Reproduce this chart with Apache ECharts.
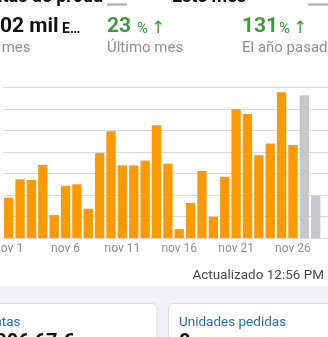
<!DOCTYPE html>
<html>
<head>
<meta charset="utf-8">
<script src="https://cdn.jsdelivr.net/npm/echarts@6/dist/echarts.min.js"></script>
<style>
  html, body { margin: 0; padding: 0; background: #ffffff; overflow: hidden; }
  #chart { width: 328px; height: 337px; }
</style>
</head>
<body>
<div id="chart"></div>
<script>
// Daily categories for November
const days = [
  'nov 1', 'nov 2', 'nov 3', 'nov 4', 'nov 5', 'nov 6', 'nov 7', 'nov 8', 'nov 9', 'nov 10',
  'nov 11', 'nov 12', 'nov 13', 'nov 14', 'nov 15', 'nov 16', 'nov 17', 'nov 18', 'nov 19', 'nov 20',
  'nov 21', 'nov 22', 'nov 23', 'nov 24', 'nov 25', 'nov 26', 'nov 27', 'nov 28', 'nov 29', 'nov 30'
];

// Daily ordered sales (one unit = one grid step)
const salesDaily = [
  1.88, 2.73, 2.70, 3.40, 1.07, 2.43, 2.50, 1.36, 3.95, 4.96,
  3.38, 3.38, 3.60, 5.24, 3.46, 0.42, 1.63, 3.12, 0.99, 2.85,
  5.99, 5.77, 3.85, 4.39, 6.78, 4.33, null, null, null, null
];

// Days still being consolidated (grey)
const salesPending = [
  null, null, null, null, null, null, null, null, null, null,
  null, null, null, null, null, null, null, null, null, null,
  null, null, null, null, null, null, 6.64, 1.98, null, null
];

// Header figures
const headerTitles = ['Ventas de produ', 'Este mes'];
const kpiValues = ['02 mil', '23', '131'];
const kpiUnits = ['E\u2026', '%', '%'];
const kpiLabels = ['Este mes', '\u00daltimo mes', 'El a\u00f1o pasado'];
const updatedText = 'Actualizado 12:56 PM';
const cardTitles = ['Ventas', 'Unidades pedidas'];
const cardValues = ['1.306,67 \u20ac', '8'];

const FONT = 'Roboto, "Noto Sans", sans-serif';
const ORANGE = '#ff9900';
const GREY_BAR = '#c7c7cc';
const GREEN = '#3c9a3c';
const LABEL_GREY = '#8e8e93';

const chart = echarts.init(document.getElementById('chart'), null, { renderer: 'canvas' });

const graphic = [
  // partially visible header row
  { type: 'text', x: 103, y: 6.5, style: { text: headerTitles[0], font: 'bold 18px ' + FONT, fill: '#111', align: 'right', verticalAlign: 'bottom' } },
  { type: 'rect', shape: { x: 107, y: 3.3, width: 20, height: 2.4 }, style: { fill: '#b4b4b8' } },
  { type: 'text', x: 209, y: 6.5, style: { text: headerTitles[1], font: 'bold 18px ' + FONT, fill: '#111', align: 'center', verticalAlign: 'bottom' } },
  { type: 'rect', shape: { x: 308, y: 3.3, width: 24, height: 2.4 }, style: { fill: '#b4b4b8' } },

  // KPI values
  { type: 'text', x: 0, y: 27, style: { text: kpiValues[0], font: 'bold 21px ' + FONT, fill: '#111', verticalAlign: 'middle' } },
  { type: 'text', x: 62, y: 29.5, style: { text: kpiUnits[0], font: 'bold 14px ' + FONT, fill: '#111', verticalAlign: 'middle' } },
  { type: 'text', x: 107, y: 27, style: { text: kpiValues[1], font: 'bold 21px ' + FONT, fill: GREEN, verticalAlign: 'middle' } },
  { type: 'text', x: 137, y: 29.5, style: { text: kpiUnits[1], font: '15px ' + FONT, fill: GREEN, verticalAlign: 'middle' } },
  { type: 'text', x: 151, y: 29, style: { text: '\u2191', font: '17px "DejaVu Sans", sans-serif', fill: GREEN, verticalAlign: 'middle' } },
  { type: 'text', x: 242, y: 27, style: { text: kpiValues[2], font: 'bold 21px ' + FONT, fill: GREEN, verticalAlign: 'middle' } },
  { type: 'text', x: 279, y: 29.5, style: { text: kpiUnits[2], font: '15px ' + FONT, fill: GREEN, verticalAlign: 'middle' } },
  { type: 'text', x: 293, y: 29, style: { text: '\u2191', font: '17px "DejaVu Sans", sans-serif', fill: GREEN, verticalAlign: 'middle' } },

  // KPI captions
  { type: 'text', x: 30.5, y: 48, style: { text: kpiLabels[0], font: '15px ' + FONT, fill: LABEL_GREY, align: 'right', verticalAlign: 'middle' } },
  { type: 'text', x: 107, y: 48, style: { text: kpiLabels[1], font: '15px ' + FONT, fill: LABEL_GREY, verticalAlign: 'middle' } },
  { type: 'text', x: 242, y: 48, style: { text: kpiLabels[2], font: '15px ' + FONT, fill: LABEL_GREY, verticalAlign: 'middle' } },

  // update stamp
  { type: 'text', x: 324, y: 276, style: { text: updatedText, font: '13.5px ' + FONT, fill: '#4a4a4c', align: 'right', verticalAlign: 'middle' } },

  // lower panel with cards
  { type: 'rect', z: -10, shape: { x: 0, y: 286, width: 328, height: 51 }, style: { fill: '#f2f2f4' } },
  { type: 'rect', z: -9, shape: { x: -10.5, y: 303.5, width: 167.5, height: 60, r: 5 }, style: { fill: '#ffffff', stroke: '#dcdce0', lineWidth: 1 } },
  { type: 'rect', z: -9, shape: { x: 168.5, y: 303.5, width: 170, height: 60, r: 5 }, style: { fill: '#ffffff', stroke: '#dcdce0', lineWidth: 1 } },
  { type: 'text', x: 20.5, y: 322.5, style: { text: cardTitles[0], font: '13.5px ' + FONT, fill: '#2a6db5', align: 'right', verticalAlign: 'middle' } },
  { type: 'text', x: 179, y: 322.5, style: { text: cardTitles[1], font: '13.5px ' + FONT, fill: '#2a6db5', verticalAlign: 'middle' } },
  { type: 'text', x: -22, y: 332.5, style: { text: cardValues[0], font: 'bold 20px ' + FONT, fill: '#111', verticalAlign: 'top' } },
  { type: 'text', x: 179, y: 332.5, style: { text: cardValues[1], font: 'bold 20px ' + FONT, fill: '#111', verticalAlign: 'top' } }
];

chart.setOption({
  animation: false,
  grid: { left: 3, top: 87.5, width: 341.1, height: 150.5, containLabel: false, outerBoundsMode: 'none' },
  xAxis: {
    type: 'category',
    data: days,
    axisLine: { show: false },
    axisTick: { show: false },
    axisLabel: {
      interval: 4,
      color: LABEL_GREY,
      fontFamily: FONT,
      fontSize: 12,
      margin: 5
    }
  },
  yAxis: {
    type: 'value',
    min: 0,
    max: 7,
    interval: 1,
    axisLabel: { show: false },
    axisLine: { show: false },
    axisTick: { show: false },
    splitLine: { lineStyle: { color: '#d8d8dc', width: 1 } }
  },
  series: [
    {
      name: 'Ventas',
      type: 'bar',
      stack: 'dia',
      data: salesDaily,
      barCategoryGap: '18%',
      itemStyle: { color: ORANGE }
    },
    {
      name: 'Pendiente',
      type: 'bar',
      stack: 'dia',
      data: salesPending,
      barCategoryGap: '18%',
      itemStyle: { color: GREY_BAR }
    }
  ],
  graphic: graphic
});
</script>
</body>
</html>
